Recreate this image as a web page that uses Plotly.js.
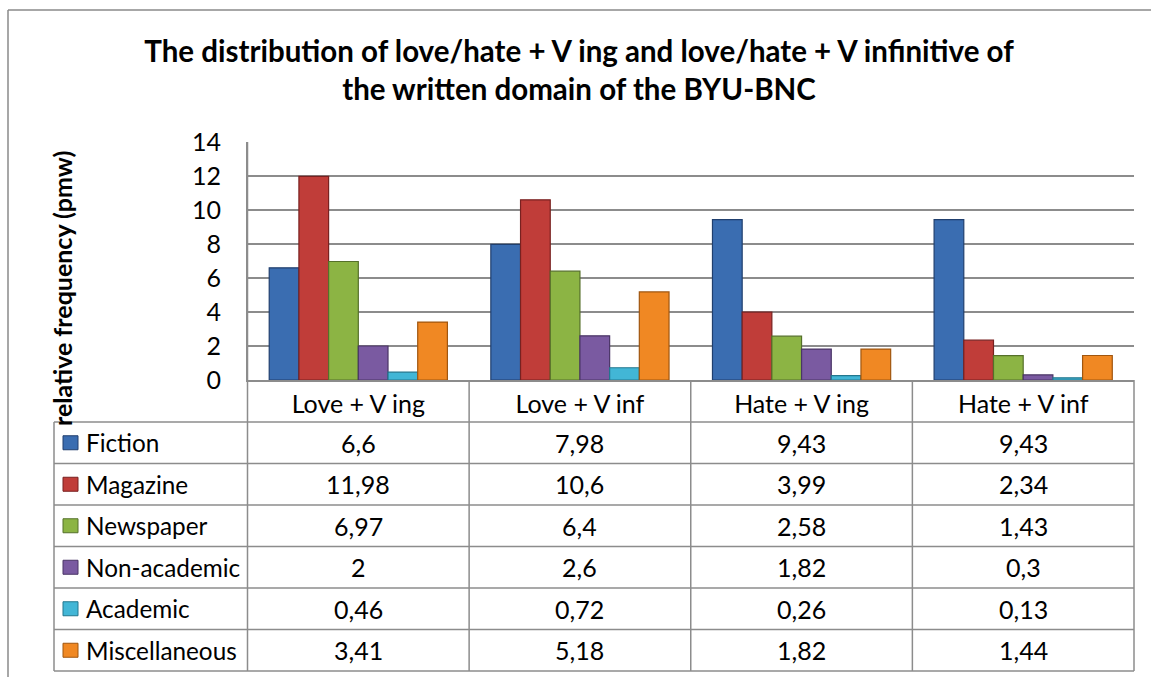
<!DOCTYPE html>
<html>
<head>
<meta charset="utf-8">
<script src="https://cdn.plot.ly/plotly-3.0.1.min.js"></script>
<style>
  html, body { margin: 0; padding: 0; background: #ffffff; }
  #chart { width: 1151px; height: 677px; }
</style>
</head>
<body>
<div id="chart"></div>
<script>
// ---------------- data ----------------
const categories = ['Love + V ing', 'Love + V inf', 'Hate + V ing', 'Hate + V inf'];
const seriesNames = ['Fiction', 'Magazine', 'Newspaper', 'Non-academic', 'Academic', 'Miscellaneous'];
const fiction = [6.6, 7.98, 9.43, 9.43];
const magazine = [11.98, 10.6, 3.99, 2.34];
const newspaper = [6.97, 6.4, 2.58, 1.43];
const nonAcademic = [2, 2.6, 1.82, 0.3];
const academic = [0.46, 0.72, 0.26, 0.13];
const miscellaneous = [3.41, 5.18, 1.82, 1.44];
const yTickValues = [0, 2, 4, 6, 8, 10, 12, 14];
const chartTitle = 'The distribution of love/hate + V ing and love/hate + V infinitive of<br>the written domain of the BYU-BNC';
const yTitle = 'relative frequency (pmw)';

// ---------------- styling ----------------
const seriesValues = [fiction, magazine, newspaper, nonAcademic, academic, miscellaneous];
const fillColors = ['#3a6db1', '#c03d39', '#8cb444', '#7a5aa1', '#42b6d6', '#f08823'];
const edgeColors = ['#203f6e', '#782120', '#55702a', '#4a3566', '#22778e', '#a0560f'];

const W = 1151, H = 677;
const px = v => v / W;
const py = v => 1 - v / H;

const plotLeft = 247.5, plotRight = 1134, plotTop = 142, plotBottom = 380;
const tableLeft = 54;
const headerBottom = 422;
const rowH = (671 - headerBottom) / seriesNames.length;
const colW = (plotRight - plotLeft) / categories.length;
const gridGray = '#8c8c8c';
const FONT = 'Lato, "Liberation Sans", sans-serif';
const TXT = 25;

const traces = seriesNames.map((name, i) => ({
  type: 'bar',
  name: name,
  x: categories,
  y: seriesValues[i],
  marker: { color: fillColors[i], line: { color: edgeColors[i], width: 1.2 } },
  hoverinfo: 'skip'
}));

const shapes = [];
const line = (x0, y0, x1, y1, color, width) => shapes.push({
  type: 'line', xref: 'paper', yref: 'paper',
  x0: px(x0), y0: py(y0), x1: px(x1), y1: py(y1),
  line: { color: color || gridGray, width: width || 1.5 }
});

// outer chart frame (top + left visible)
line(8, 10, W + 5, 10, '#8a8a8a', 1.5);
line(8, 10, 8, H + 5, '#8a8a8a', 1.5);

// table grid
line(plotLeft, plotTop, plotLeft, headerBottom + rowH * seriesNames.length);
for (let c = 1; c <= categories.length; c++) {
  line(plotLeft + c * colW, plotBottom, plotLeft + c * colW, headerBottom + rowH * seriesNames.length);
}
line(tableLeft, headerBottom, tableLeft, headerBottom + rowH * seriesNames.length);
for (let r = 0; r <= seriesNames.length; r++) {
  line(tableLeft, headerBottom + r * rowH, plotRight, headerBottom + r * rowH);
}

const annotations = [];
const fmt = v => String(v).replace('.', ',');

seriesNames.forEach((name, i) => {
  const cy = headerBottom + rowH * (i + 0.5);
  // legend key square
  shapes.push({
    type: 'rect', xref: 'paper', yref: 'paper',
    x0: px(63), x1: px(78), y0: py(cy - 7), y1: py(cy + 7),
    fillcolor: fillColors[i], line: { color: edgeColors[i], width: 1 }
  });
  annotations.push({
    xref: 'paper', yref: 'paper', x: px(84), y: py(cy),
    xanchor: 'left', yanchor: 'middle', showarrow: false,
    text: name, font: { family: FONT, size: 24.3, color: '#000' }
  });
  categories.forEach((cat, j) => {
    annotations.push({
      xref: 'x', yref: 'paper', x: cat, y: py(cy),
      xanchor: 'center', yanchor: 'middle', showarrow: false,
      text: fmt(seriesValues[i][j]), font: { family: FONT, size: TXT, color: '#000' }
    });
  });
});

// y axis title
annotations.push({
  xref: 'paper', yref: 'paper', x: px(62), y: py(289),
  xanchor: 'center', yanchor: 'middle', showarrow: false, textangle: -90,
  text: '<b>' + yTitle + '</b>', font: { family: FONT, size: 25, color: '#000' }
});

const layout = {
  width: W, height: H,
  margin: { l: 0, r: 0, t: 0, b: 0, pad: 0 },
  paper_bgcolor: '#ffffff', plot_bgcolor: '#ffffff',
  showlegend: false,
  barmode: 'group', bargap: 0.196, bargroupgap: 0,
  title: {
    text: '<b>' + chartTitle + '</b>',
    x: px(579), xanchor: 'center', xref: 'paper',
    y: py(62), yanchor: 'middle', yref: 'paper',
    font: { family: FONT, size: 29.5, color: '#000' }
  },
  xaxis: {
    domain: [px(plotLeft), px(plotRight)],
    type: 'category',
    showgrid: false, zeroline: false,
    showline: true, linecolor: gridGray, linewidth: 1.5,
    ticks: 'outside', ticklen: 1, tickcolor: 'rgba(0,0,0,0)',
    tickfont: { family: FONT, size: TXT, color: '#000' },
    fixedrange: true
  },
  yaxis: {
    domain: [py(plotBottom), py(plotTop)],
    range: [0, 14],
    tickvals: yTickValues,
    ticktext: yTickValues.map(String),
    showgrid: true, gridcolor: gridGray, gridwidth: 1.5,
    zeroline: false,
    showline: true, linecolor: gridGray, linewidth: 1.5,
    ticks: 'outside', ticklen: 20, tickcolor: 'rgba(0,0,0,0)',
    tickfont: { family: FONT, size: TXT, color: '#000' },
    fixedrange: true
  },
  shapes: shapes,
  annotations: annotations,
  hovermode: false
};

Plotly.newPlot('chart', traces, layout, { displayModeBar: false, staticPlot: true });
</script>
</body>
</html>
